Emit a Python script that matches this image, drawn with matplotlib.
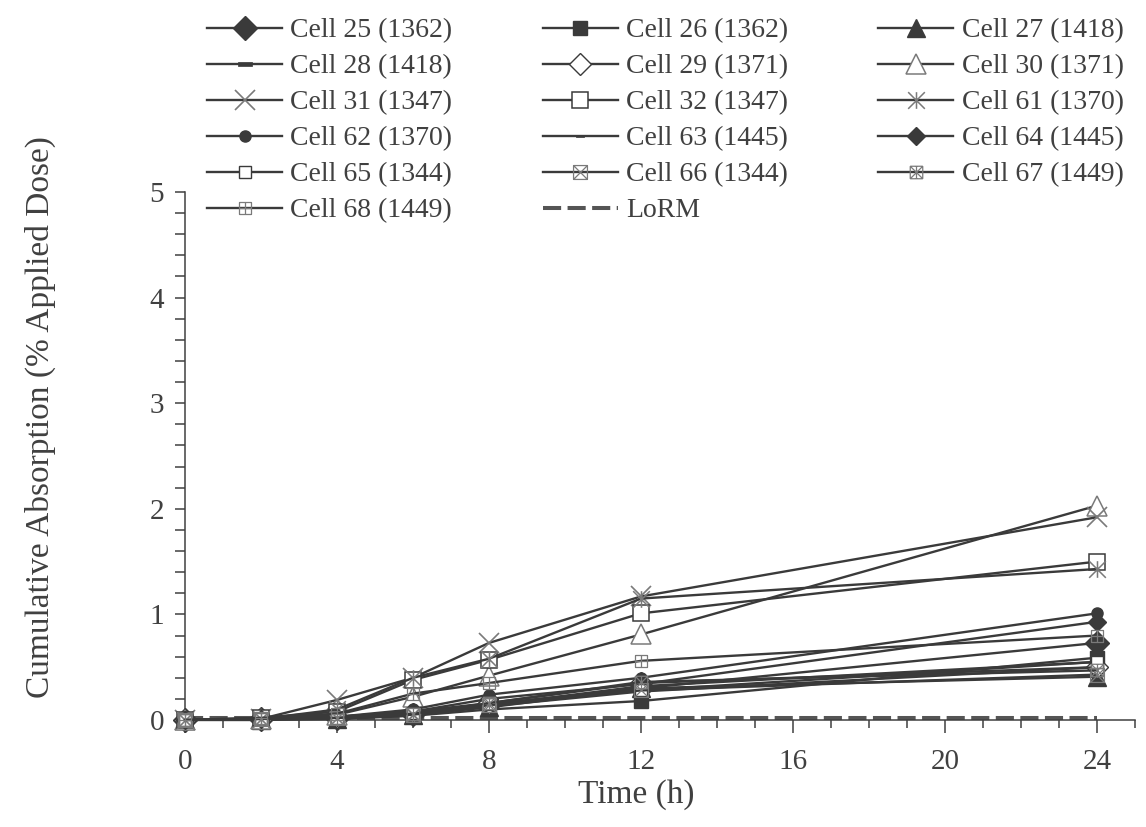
import matplotlib
matplotlib.use("Agg")
import matplotlib.pyplot as plt
from matplotlib.path import Path
from matplotlib.ticker import MultipleLocator

plt.rcParams["font.family"] = ["Liberation Serif", "DejaVu Serif"]

# Sampling times (h)
time_h = [0, 2, 4, 6, 8, 12, 24]

# Cumulative absorption (% of applied dose) per diffusion cell
cell25 = [0.00, 0.01, 0.02, 0.06, 0.15, 0.30, 0.73]
cell26 = [0.00, 0.01, 0.01, 0.04, 0.10, 0.18, 0.59]
cell27 = [0.00, 0.00, 0.01, 0.05, 0.12, 0.30, 0.41]
cell28 = [0.00, 0.01, 0.02, 0.06, 0.14, 0.32, 0.55]
cell29 = [0.00, 0.01, 0.03, 0.08, 0.16, 0.35, 0.50]
cell30 = [0.00, 0.01, 0.05, 0.22, 0.42, 0.81, 2.03]
cell31 = [0.00, 0.01, 0.19, 0.40, 0.73, 1.17, 1.92]
cell32 = [0.00, 0.02, 0.08, 0.38, 0.57, 1.01, 1.50]
cell61 = [0.00, 0.01, 0.10, 0.40, 0.58, 1.15, 1.43]
cell62 = [0.00, 0.01, 0.03, 0.10, 0.24, 0.40, 1.01]
cell63 = [0.00, 0.01, 0.02, 0.06, 0.13, 0.27, 0.50]
cell64 = [0.00, 0.01, 0.03, 0.08, 0.20, 0.34, 0.93]
cell65 = [0.00, 0.01, 0.02, 0.07, 0.15, 0.28, 0.55]
cell66 = [0.00, 0.01, 0.02, 0.05, 0.14, 0.28, 0.43]
cell67 = [0.00, 0.01, 0.02, 0.06, 0.16, 0.36, 0.47]
cell68 = [0.00, 0.02, 0.06, 0.25, 0.35, 0.56, 0.80]

# Limit of reliable measurement
lorm_time = [0, 24]
lorm_value = [0.02, 0.02]

cell_labels = [
    "Cell 25 (1362)", "Cell 26 (1362)", "Cell 27 (1418)",
    "Cell 28 (1418)", "Cell 29 (1371)", "Cell 30 (1371)",
    "Cell 31 (1347)", "Cell 32 (1347)", "Cell 61 (1370)",
    "Cell 62 (1370)", "Cell 63 (1445)", "Cell 64 (1445)",
    "Cell 65 (1344)", "Cell 66 (1344)", "Cell 67 (1449)",
    "Cell 68 (1449)",
]
cell_values = [cell25, cell26, cell27, cell28, cell29, cell30, cell31, cell32,
               cell61, cell62, cell63, cell64, cell65, cell66, cell67, cell68]


def segments(segs):
    verts, codes = [], []
    for a, b in segs:
        verts += [a, b]
        codes += [Path.MOVETO, Path.LINETO]
    return Path(verts, codes)


diag = [((-1, -1), (1, 1)), ((-1, 1), (1, -1))]
vert = [((0, -1), (0, 1))]
horiz = [((-1, 0), (1, 0))]
box = [((-1, -1), (1, -1)), ((1, -1), (1, 1)), ((1, 1), (-1, 1)), ((-1, 1), (-1, -1))]
star_marker = segments(diag + vert)
box_x_marker = segments(box + diag)
box_star_marker = segments(box + diag + vert)
box_plus_marker = segments(box + vert + horiz)
dash_marker = Path([(-1, -0.22), (1, -0.22), (1, 0.22), (-1, 0.22), (-1, -0.22)],
                   [Path.MOVETO, Path.LINETO, Path.LINETO, Path.LINETO, Path.CLOSEPOLY])

dark = "#3a3a3a"
grey = "#7a7a7a"
# marker, size, face, edge, edge width
styles = [
    ("D", 12, dark, dark, 1.0),
    ("s", 10, dark, dark, 1.0),
    ("^", 13, dark, dark, 1.0),
    (dash_marker, 10, dark, dark, 0.5),
    ("D", 11, "white", dark, 1.0),
    ("^", 14, "white", grey, 1.1),
    ("x", 14, grey, grey, 1.2),
    ("s", 12, "white", dark, 1.1),
    (star_marker, 12, "none", grey, 1.1),
    ("o", 8, dark, dark, 1.0),
    (dash_marker, 6, dark, dark, 0.5),
    ("D", 9, dark, dark, 1.0),
    ("s", 8.5, "white", dark, 1.0),
    (box_x_marker, 10, "white", grey, 0.9),
    (box_star_marker, 9, "white", grey, 0.9),
    (box_plus_marker, 8, "white", grey, 0.9),
]

fig = plt.figure(figsize=(11.46, 8.27), dpi=100)
ax = fig.add_axes([185 / 1146, 1 - 720 / 827, (1135 - 185) / 1146, (720 - 192) / 827])

handles = []
for vals, lab, (mk, ms, fc, ec, mew) in zip(cell_values, cell_labels, styles):
    h, = ax.plot(time_h, vals, color=dark, lw=1.7, marker=mk, markersize=ms,
                 markerfacecolor=fc, markeredgecolor=ec, markeredgewidth=mew,
                 label=lab, clip_on=False, zorder=3)
    handles.append(h)

lorm_line, = ax.plot(lorm_time, lorm_value, color="#555555", lw=2.9,
                     dashes=(4.5, 1.6), label="LoRM", zorder=2, clip_on=False)
handles.append(lorm_line)
all_labels = cell_labels + ["LoRM"]

ax.set_xlim(0, 25)
ax.set_ylim(0, 5)
ax.xaxis.set_major_locator(MultipleLocator(4))
ax.xaxis.set_minor_locator(MultipleLocator(1))
ax.yaxis.set_major_locator(MultipleLocator(1))
ax.yaxis.set_minor_locator(MultipleLocator(0.2))

for side in ("top", "right"):
    ax.spines[side].set_visible(False)
for side in ("left", "bottom"):
    ax.spines[side].set_color("#404040")
    ax.spines[side].set_linewidth(1.1)

ax.tick_params(axis="x", which="major", length=9, width=1.1, color="#404040",
               labelsize=21, labelcolor="#404040", pad=12)
ax.tick_params(axis="x", which="minor", length=6, width=1.1, color="#404040")
ax.tick_params(axis="y", which="major", length=7, width=1.1, color="#404040",
               labelsize=21, labelcolor="#404040", pad=8)
ax.tick_params(axis="y", which="minor", length=7, width=1.1, color="#404040")

fig.text(636 / 1146, 1 - 795 / 827, "Time (h)", fontsize=24, color="#404040",
         ha="center", va="center")
fig.text(40 / 1146, 1 - 417 / 827, "Cumulative Absorption (% Applied Dose)",
         fontsize=24, color="#404040", ha="center", va="center", rotation=90)

# Legend reads row by row across three columns
ncol = 3
nrow = (len(handles) + ncol - 1) // ncol
order = [r * ncol + c for c in range(ncol) for r in range(nrow)
         if r * ncol + c < len(handles)]
fig.legend(handles=[handles[i] for i in order],
           labels=[all_labels[i] for i in order], ncol=ncol,
           loc="upper left", bbox_to_anchor=(207 / 1146, 1 - 18 / 827),
           frameon=False, fontsize=20, handlelength=2.7, handletextpad=0.3,
           columnspacing=3.25, labelspacing=0.38, borderpad=0, borderaxespad=0,
           numpoints=1, markerscale=1.0, labelcolor="#404040")

fig.savefig("out.png", dpi=100)
